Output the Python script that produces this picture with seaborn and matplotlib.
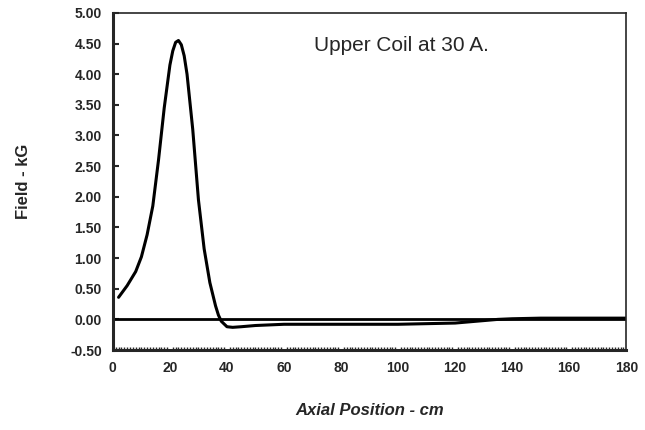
import matplotlib
matplotlib.use("Agg")
import matplotlib.pyplot as plt
import numpy as np
import pandas as pd
import seaborn as sns
from matplotlib.ticker import MultipleLocator

# axial position (cm) and field (kG)
axial_cm = [2, 5, 8, 10, 12, 14, 16, 18, 20, 21, 22, 23, 24, 25, 26, 28, 30, 32, 34, 36,
            37, 38, 40, 42, 45, 50, 60, 70, 80, 90, 100, 110, 120, 125, 130, 135, 140,
            150, 160, 170, 180]
field_kg = [0.36, 0.55, 0.78, 1.02, 1.38, 1.85, 2.60, 3.45, 4.15, 4.38, 4.52, 4.55, 4.48,
            4.30, 4.00, 3.10, 1.95, 1.15, 0.60, 0.22, 0.07, -0.03, -0.12, -0.13, -0.12,
            -0.10, -0.08, -0.08, -0.08, -0.08, -0.08, -0.07, -0.06, -0.04, -0.02, 0.00,
            0.01, 0.02, 0.02, 0.02, 0.02]

x_ticks = [0, 20, 40, 60, 80, 100, 120, 140, 160, 180]
y_ticks = [-0.5, 0.0, 0.5, 1.0, 1.5, 2.0, 2.5, 3.0, 3.5, 4.0, 4.5, 5.0]

df = pd.DataFrame({"axial": axial_cm, "field": field_kg})

sns.set_theme(style="ticks")
plt.rcParams["font.family"] = ["Liberation Sans", "DejaVu Sans"]

fig = plt.figure(figsize=(6.45, 4.3), dpi=100)
ax = fig.add_axes([0.175, 0.186, 0.796, 0.784])

sns.lineplot(data=df, x="axial", y="field", ax=ax, color="black", linewidth=2.2)
ax.axhline(0, color="black", linewidth=2.0)

ax.set_xlim(0, 180)
ax.set_ylim(-0.5, 5.0)
ax.set_xticks(x_ticks)
ax.set_xticklabels([str(v) for v in x_ticks])
ax.set_yticks(y_ticks)
ax.set_yticklabels([f"{v:.2f}" for v in y_ticks])
ax.xaxis.set_minor_locator(MultipleLocator(1))
ax.tick_params(axis="both", which="major", direction="in", length=4, width=1.5,
               labelsize=10, pad=8)
ax.tick_params(axis="x", which="minor", direction="in", length=2, width=1)
ax.tick_params(axis="x", which="major", length=0)
for lbl in ax.get_xticklabels() + ax.get_yticklabels():
  lbl.set_fontweight("bold")

for side in ["top", "right"]:
  ax.spines[side].set_linewidth(1.2)
for side in ["left", "bottom"]:
  ax.spines[side].set_linewidth(2.2)

ax.set_xlabel("Axial Position - cm", fontsize=12, fontweight="bold", fontstyle="italic",
              labelpad=20)
ax.set_ylabel("Field - kG", fontsize=12, fontweight="bold", labelpad=28)
ax.text(101, 4.47, "Upper Coil at 30 A.", fontsize=15, ha="center", va="center")

fig.savefig("out.png", dpi=100)
